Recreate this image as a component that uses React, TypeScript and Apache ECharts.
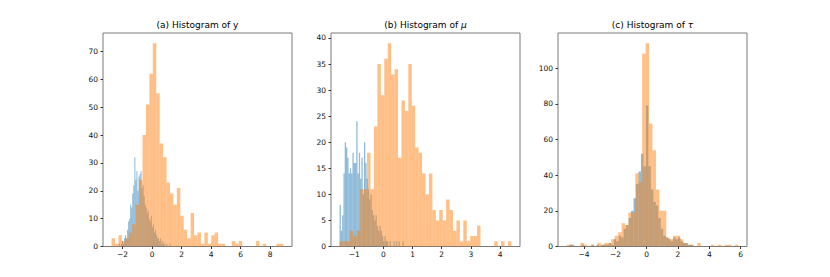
import React, { useEffect, useRef } from "react";
import * as echarts from "echarts";

// ---- Panel (a): Histogram of y ----
const yBlueRange = [-2.25, 1.25];
const yBlueCounts = [1, 0, 1, 2, 1, 3, 4, 3, 6, 9, 10, 15, 14, 19, 22, 32, 24, 27, 20, 25, 26, 27, 21, 22, 18, 15, 14, 12, 13, 10, 9, 11, 7, 8, 5, 6, 4, 3, 3, 2, 3, 1, 2, 1, 1, 0, 1, 0, 0, 1];
const yOrangeRange = [-2.74, 8.89];
const yOrangeCounts = [3, 1, 4, 2, 3, 5, 8, 15, 24, 40, 51, 62, 73, 55, 37, 32, 23, 19, 15, 21, 11, 6, 3, 12, 4, 5, 1, 5, 1, 4, 5, 1, 1, 0, 0, 2, 1, 2, 0, 0, 0, 0, 2, 0, 1, 0, 0, 0, 1, 1];
const yXTicks = [-2, 0, 2, 4, 6, 8];
const yYTicks = [0, 10, 20, 30, 40, 50, 60, 70];

// ---- Panel (b): Histogram of mu ----
const muBlueRange = [-1.5, 0.7];
const muBlueCounts = [8, 3, 6, 14, 20, 19, 17, 14, 15, 14, 18, 16, 16, 24, 14, 18, 13, 17, 10, 20, 16, 13, 11, 9, 10, 7, 6, 5, 6, 4, 3, 4, 3, 2, 1, 2, 1, 1, 0, 1, 0, 0, 1, 0, 1, 0, 1, 0, 0, 1];
const muOrangeRange = [-1.5, 4.39];
const muOrangeCounts = [1, 1, 1, 3, 2, 3, 11, 11, 18, 11, 23, 35, 29, 36, 39, 33, 34, 17, 28, 26, 35, 27, 19, 18, 14, 10, 14, 7, 5, 7, 5, 9, 7, 3, 5, 1, 5, 1, 2, 2, 4, 0, 0, 0, 0, 1, 0, 1, 0, 1];
const muXTicks = [-1, 0, 1, 2, 3, 4];
const muYTicks = [0, 5, 10, 15, 20, 25, 30, 35, 40];

// ---- Panel (c): Histogram of tau ----
const tauBlueRange = [-4.95, 2.95];
const tauBlueCounts = [1, 1, 0, 0, 0, 1, 0, 0, 0, 1, 0, 1, 0, 1, 1, 1, 2, 1, 4, 3, 6, 5, 10, 12, 16, 20, 27, 35, 42, 52, 45, 79, 45, 32, 25, 23, 16, 10, 6, 5, 4, 3, 5, 4, 5, 3, 2, 2, 1, 1];
const tauOrangeRange = [-5.12, 5.86];
const tauOrangeCounts = [1, 1, 0, 0, 2, 1, 0, 1, 0, 2, 1, 2, 2, 4, 6, 8, 13, 12, 19, 19, 41, 36, 108, 114, 69, 54, 32, 20, 20, 5, 4, 6, 6, 4, 2, 1, 1, 0, 2, 0, 0, 0, 1, 0, 1, 0, 1, 1, 0, 1];
const tauXTicks = [-4, -2, 0, 2, 4, 6];
const tauYTicks = [0, 20, 40, 60, 80, 100];

const titles = ["(a) Histogram of y", "(b) Histogram of {it|\u03bc}", "(c) Histogram of {it|\u03c4}"];

const BLUE = "rgba(31,119,180,0.5)";
const ORANGE = "rgba(255,127,14,0.5)";
const FONT = "DejaVu Sans";

type Panel = {
  blueRange: number[];
  blueCounts: number[];
  orangeRange: number[];
  orangeCounts: number[];
  xTicks: number[];
  yTicks: number[];
};

const panels: Panel[] = [
  { blueRange: yBlueRange, blueCounts: yBlueCounts, orangeRange: yOrangeRange, orangeCounts: yOrangeCounts, xTicks: yXTicks, yTicks: yYTicks },
  { blueRange: muBlueRange, blueCounts: muBlueCounts, orangeRange: muOrangeRange, orangeCounts: muOrangeCounts, xTicks: muXTicks, yTicks: muYTicks },
  { blueRange: tauBlueRange, blueCounts: tauBlueCounts, orangeRange: tauOrangeRange, orangeCounts: tauOrangeCounts, xTicks: tauXTicks, yTicks: tauYTicks },
];

function binData(range: number[], counts: number[]) {
  const w = (range[1] - range[0]) / counts.length;
  return counts.map((c, i) => [range[0] + i * w, range[0] + (i + 1) * w, c]);
}

const gridLefts = [103, 331, 558];
const GRID_TOP = 33;
const GRID_W = 189;
const GRID_H = 213.5;

const fmt = (v: number) => String(v).replace("-", "\u2212");

export default function App() {
  const ref = useRef<HTMLDivElement>(null);
  useEffect(() => {
    if (!ref.current) return;
    const chart = echarts.init(ref.current, null, { renderer: "svg" });
    const grids: any[] = [];
    const xAxes: any[] = [];
    const yAxes: any[] = [];
    const series: any[] = [];
    const graphics: any[] = [];
    panels.forEach((p, i) => {
      const lo = Math.min(p.blueRange[0], p.orangeRange[0]);
      const hi = Math.max(p.blueRange[1], p.orangeRange[1]);
      const pad = 0.05 * (hi - lo);
      const ymax = 1.05 * Math.max(...p.blueCounts, ...p.orangeCounts);
      grids.push({
        left: gridLefts[i],
        top: GRID_TOP,
        width: GRID_W,
        height: GRID_H,
        show: true,
        borderColor: "#7a7a7a",
        borderWidth: 1,
        backgroundColor: "transparent",
        containLabel: false,
      });
      xAxes.push({
        type: "value",
        gridIndex: i,
        min: lo - pad,
        max: hi + pad,
        splitLine: { show: false },
        axisLine: { show: false, onZero: false },
        axisTick: { show: true, length: 2.5, customValues: p.xTicks, lineStyle: { color: "#333" } },
        axisLabel: { customValues: p.xTicks, formatter: fmt, fontSize: 7.5, fontFamily: FONT, color: "#111", margin: 4 },
      });
      yAxes.push({
        type: "value",
        gridIndex: i,
        min: 0,
        max: ymax,
        splitLine: { show: false },
        axisLine: { show: false, onZero: false },
        axisTick: { show: true, length: 2.5, customValues: p.yTicks, lineStyle: { color: "#333" } },
        axisLabel: { customValues: p.yTicks, formatter: fmt, fontSize: 7.5, fontFamily: FONT, color: "#111", margin: 5 },
      });
      const mk = (data: number[][], color: string) => ({
        type: "custom",
        xAxisIndex: i,
        yAxisIndex: i,
        data,
        encode: { x: [0, 1], y: 2 },
        clip: true,
        renderItem: (_params: any, api: any) => {
          const p0 = api.coord([api.value(0), api.value(2)]);
          const p1 = api.coord([api.value(1), 0]);
          return {
            type: "rect",
            shape: { x: p0[0], y: p0[1], width: p1[0] - p0[0], height: p1[1] - p0[1] },
            style: { fill: color },
          };
        },
      });
      series.push(mk(binData(p.blueRange, p.blueCounts), BLUE));
      series.push(mk(binData(p.orangeRange, p.orangeCounts), ORANGE));
      graphics.push({
        type: "text",
        x: gridLefts[i] + GRID_W / 2,
        y: 25,
        style: {
          text: titles[i],
          textAlign: "center",
          textVerticalAlign: "middle",
          fontSize: 9,
          fontFamily: FONT,
          fill: "#000",
          rich: { it: { fontStyle: "italic", fontSize: 9, fontFamily: FONT, fill: "#000" } },
        },
      });
    });
    chart.setOption({
      animation: false,
      grid: grids,
      xAxis: xAxes,
      yAxis: yAxes,
      series,
      graphic: graphics,
    });
    return () => chart.dispose();
  }, []);
  return (
    <div
      ref={ref}
      style={{ position: "fixed", left: 0, top: 0, width: 830, height: 277, background: "#fff" }}
    />
  );
}
